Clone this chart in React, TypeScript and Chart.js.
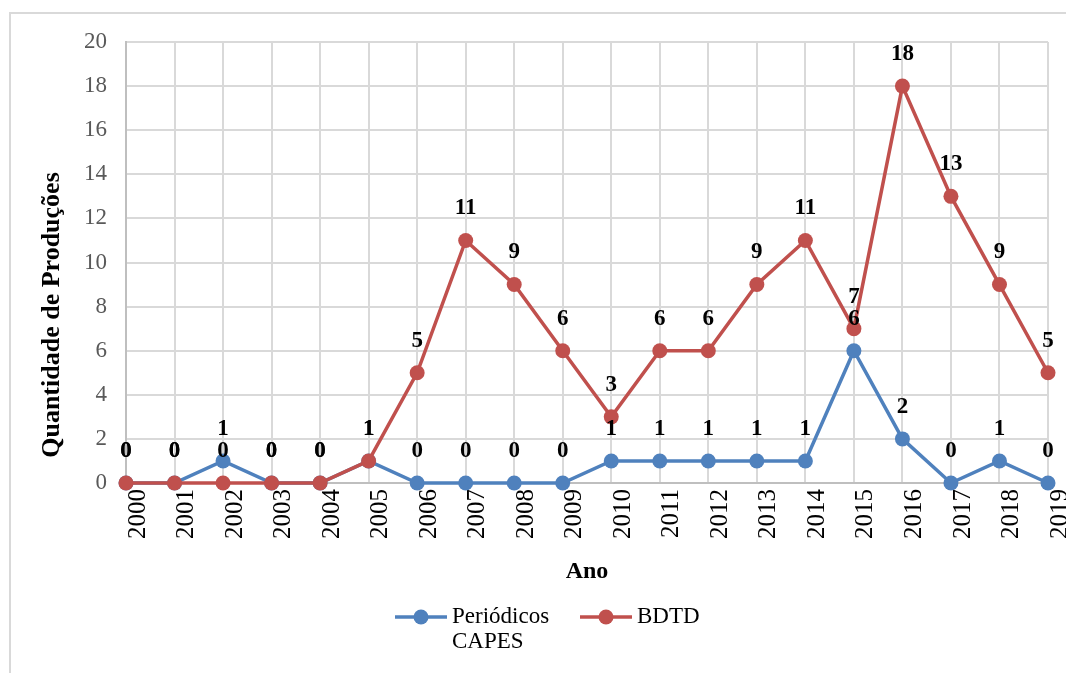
import React, { useEffect, useRef } from "react";
import { Chart, registerables } from "chart.js";

Chart.register(...registerables);

const years = ["2000","2001","2002","2003","2004","2005","2006","2007","2008","2009","2010","2011","2012","2013","2014","2015","2016","2017","2018","2019"];
const capesValues = [0,0,1,0,0,1,0,0,0,0,1,1,1,1,1,6,2,0,1,0];
const bdtdValues = [0,0,0,0,0,1,5,11,9,6,3,6,6,9,11,7,18,13,9,5];
const yMin = 0;
const yMax = 20;
const yStep = 2;
const capesLabel = ["Periódicos", "CAPES"];
const bdtdLabel = ["BDTD"];
const xTitle = "Ano";
const yTitle = "Quantidade de Produções";

const BLUE = "#4F81BD";
const RED = "#C0504D";
const GRID = "#d9d9d9";
const SERIF = "'Liberation Serif', 'Times New Roman', serif";

const decor = {
  id: "decor",
  beforeDraw(chart: any) {
    const ctx = chart.ctx;
    ctx.save();
    ctx.fillStyle = "#ffffff";
    ctx.fillRect(0, 0, chart.width, chart.height);
    ctx.strokeStyle = GRID;
    ctx.lineWidth = 2;
    ctx.strokeRect(10, 13, chart.width + 20, chart.height + 20);
    ctx.restore();
  },
  afterDatasetsDraw(chart: any) {
    const ctx = chart.ctx;
    ctx.save();
    ctx.font = `bold 23px ${SERIF}`;
    ctx.fillStyle = "#000000";
    ctx.textAlign = "center";
    ctx.textBaseline = "middle";
    const order = [1, 0];
    for (const di of order) {
      const meta = chart.getDatasetMeta(di);
      const data = chart.data.datasets[di].data;
      meta.data.forEach((pt: any, i: number) => {
        ctx.fillText(String(data[i]), pt.x, pt.y - 32);
      });
    }
    ctx.restore();
  },
  afterDraw(chart: any) {
    const ctx = chart.ctx;
    const area = chart.chartArea;
    ctx.save();
    ctx.font = `bold 26px ${SERIF}`;
    ctx.fillStyle = "#000000";
    ctx.textAlign = "center";
    ctx.textBaseline = "middle";
    ctx.translate(52, 315);
    ctx.rotate(-Math.PI / 2);
    ctx.fillText(yTitle, 0, 0);
    ctx.restore();

    const cx = (area.left + area.right) / 2;
    const ly = 617;
    const items = [
      { color: BLUE, text: capesLabel, x0: cx - 192 },
      { color: RED, text: bdtdLabel, x0: cx - 7 },
    ];
    ctx.save();
    for (const it of items) {
      ctx.strokeStyle = it.color;
      ctx.lineWidth = 3.5;
      ctx.beginPath();
      ctx.moveTo(it.x0, ly);
      ctx.lineTo(it.x0 + 52, ly);
      ctx.stroke();
      ctx.fillStyle = it.color;
      ctx.beginPath();
      ctx.arc(it.x0 + 26, ly, 7.5, 0, Math.PI * 2);
      ctx.fill();
      ctx.fillStyle = "#000000";
      ctx.font = `23px ${SERIF}`;
      ctx.textAlign = "left";
      ctx.textBaseline = "middle";
      it.text.forEach((t, k) => ctx.fillText(t, it.x0 + 57, ly + k * 25));
    }
    ctx.restore();
  },
};

export default function App() {
  const ref = useRef<HTMLCanvasElement>(null);
  useEffect(() => {
    if (!ref.current) return;
    const chart = new Chart(ref.current, {
      type: "line",
      data: {
        labels: years,
        datasets: [
          {
            label: capesLabel.join(" "),
            data: capesValues,
            borderColor: BLUE,
            backgroundColor: BLUE,
            borderWidth: 3.5,
            pointRadius: 7.5,
            pointBorderWidth: 0,
            pointBackgroundColor: BLUE,
            order: 2,
            tension: 0,
            clip: false,
          },
          {
            label: bdtdLabel.join(" "),
            data: bdtdValues,
            borderColor: RED,
            backgroundColor: RED,
            borderWidth: 3.5,
            pointRadius: 7.5,
            pointBorderWidth: 0,
            pointBackgroundColor: RED,
            order: 1,
            tension: 0,
            clip: false,
          },
        ],
      },
      options: {
        responsive: false,
        animation: false,
        layout: { padding: { left: 0, top: 42, right: 18, bottom: 80 } },
        plugins: {
          legend: { display: false },
          tooltip: { enabled: false },
        },
        scales: {
          x: {
            offset: false,
            grid: { color: GRID, lineWidth: 2, drawTicks: false },
            border: { color: "#bfbfbf", width: 2 },
            ticks: {
              color: "#000000",
              font: { family: SERIF, size: 25 },
              maxRotation: 90,
              minRotation: 90,
              padding: 6,
              labelOffset: 12,
              autoSkip: false,
            },
            title: {
              display: true,
              text: xTitle,
              color: "#000000",
              font: { family: SERIF, size: 24, weight: "bold" },
              padding: { top: 0, bottom: 7 },
            },
            afterFit: (s: any) => {
              s.height = 110;
              s.paddingLeft = 0;
              s.paddingRight = 0;
            },
          },
          y: {
            min: yMin,
            max: yMax,
            grid: { color: GRID, lineWidth: 2, drawTicks: false },
            border: { color: "#bfbfbf", width: 2 },
            ticks: {
              stepSize: yStep,
              color: "#595959",
              font: { family: SERIF, size: 23 },
              padding: 19,
            },
            afterFit: (s: any) => {
              s.width = 126;
              s.paddingTop = 0;
              s.paddingBottom = 0;
            },
          },
        },
      },
      plugins: [decor],
    });
    return () => chart.destroy();
  }, []);
  return (
    <div style={{ position: "fixed", left: 0, top: 0, width: 1066, height: 673, background: "#fff" }}>
      <canvas ref={ref} width={1066} height={673} style={{ display: "block" }} />
    </div>
  );
}
